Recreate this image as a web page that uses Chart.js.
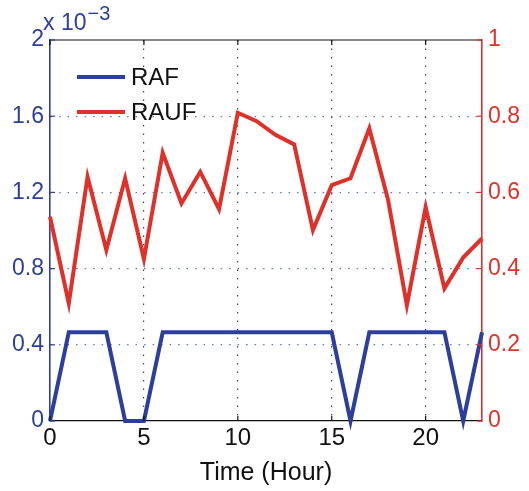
<!DOCTYPE html>
<html>
<head>
<meta charset="utf-8">
<script src="https://cdn.jsdelivr.net/npm/chart.js@4/dist/chart.umd.min.js"></script>
<style>
  html, body { margin: 0; padding: 0; background: #ffffff; }
  #wrap { width: 529px; height: 491px; position: relative; }
</style>
</head>
<body>
<div id="wrap"><canvas id="c" width="529" height="491"></canvas></div>
<script>
// Hours of the day
const hours = [0, 1, 2, 3, 4, 5, 6, 7, 8, 9, 10, 11, 12, 13, 14, 15, 16, 17, 18, 19, 20, 21, 22, 23];

// RAF (left axis, shown in units of 10^-3)
const raf = [0, 0.000466, 0.000466, 0.000466, 0, 0, 0.000466, 0.000466, 0.000466, 0.000466,
             0.000466, 0.000466, 0.000466, 0.000466, 0.000466, 0.000466, 0, 0.000466, 0.000466,
             0.000466, 0.000466, 0.000466, 0, 0.000466];

// RAUF (right axis)
const rauf = [0.536, 0.309, 0.641, 0.449, 0.637, 0.425, 0.704, 0.571, 0.654, 0.556,
              0.809, 0.787, 0.751, 0.726, 0.501, 0.619, 0.637, 0.768, 0.580, 0.304,
              0.561, 0.348, 0.429, 0.479];

const xTicks = [0, 5, 10, 15, 20];
const leftTicks = [0, 0.0004, 0.0008, 0.0012, 0.0016, 0.002];
const rightTicks = [0, 0.2, 0.4, 0.6, 0.8, 1];

const BLUE = '#2c3f9d';
const RED = '#e0302a';
const FONT = '"Liberation Sans", Arial, Helvetica, sans-serif';

// Frame, inward tick marks, exponent label and the in-plot legend
const decorations = {
  id: 'decorations',
  afterDatasetsDraw(chart) {
    const { ctx, chartArea: a, scales } = chart;
    const len = 5;
    ctx.save();
    ctx.lineWidth = 1.2;
    // top border
    ctx.strokeStyle = '#111';
    ctx.beginPath();
    ctx.moveTo(a.left, a.top);
    ctx.lineTo(a.right, a.top);
    ctx.stroke();
    // x ticks top & bottom
    xTicks.forEach(v => {
      const px = scales.x.getPixelForValue(v);
      ctx.beginPath();
      ctx.moveTo(px, a.bottom); ctx.lineTo(px, a.bottom - len);
      ctx.moveTo(px, a.top); ctx.lineTo(px, a.top + len);
      ctx.stroke();
    });
    // left ticks
    ctx.strokeStyle = BLUE;
    leftTicks.forEach(v => {
      const py = scales.y.getPixelForValue(v);
      ctx.beginPath();
      ctx.moveTo(a.left, py); ctx.lineTo(a.left + len, py);
      ctx.stroke();
    });
    // right ticks
    ctx.strokeStyle = RED;
    rightTicks.forEach(v => {
      const py = scales.y1.getPixelForValue(v);
      ctx.beginPath();
      ctx.moveTo(a.right, py); ctx.lineTo(a.right - len, py);
      ctx.stroke();
    });

    // exponent of the left axis
    ctx.fillStyle = BLUE;
    ctx.textBaseline = 'alphabetic';
    ctx.textAlign = 'left';
    ctx.font = '23px ' + FONT;
    const base = 'x 10';
    ctx.fillText(base, 43, 30);
    const w = ctx.measureText(base).width;
    ctx.font = '20px ' + FONT;
    ctx.fillText('\u22123', 43 + w + 1, 20);

    // legend
    const items = chart.data.datasets;
    const lx0 = 77, lx1 = 125, ys = [77, 112];
    items.forEach((ds, i) => {
      ctx.strokeStyle = ds.borderColor;
      ctx.lineWidth = ds.borderWidth;
      ctx.beginPath();
      ctx.moveTo(lx0, ys[i]); ctx.lineTo(lx1, ys[i]);
      ctx.stroke();
      ctx.fillStyle = '#111';
      ctx.font = '24px ' + FONT;
      ctx.textBaseline = 'middle';
      ctx.fillText(ds.label, 131, ys[i] + 1);
    });
    ctx.restore();
  }
};

new Chart(document.getElementById('c'), {
  type: 'line',
  data: {
    datasets: [
      {
        label: 'RAF',
        data: hours.map((h, i) => ({ x: h, y: raf[i] })),
        borderColor: BLUE,
        borderWidth: 4,
        pointRadius: 0,
        tension: 0,
        yAxisID: 'y'
      },
      {
        label: 'RAUF',
        data: hours.map((h, i) => ({ x: h, y: rauf[i] })),
        borderColor: RED,
        borderWidth: 4,
        pointRadius: 0,
        tension: 0,
        yAxisID: 'y1'
      }
    ]
  },
  options: {
    responsive: false,
    animation: false,
    clip: false,
    layout: { padding: { top: 40, left: 0, right: 0, bottom: 0 } },
    plugins: { legend: { display: false }, tooltip: { enabled: false } },
    scales: {
      x: {
        type: 'linear',
        min: 0, max: 23,
        afterFit(s) { s.height = 70; },
        afterBuildTicks(s) { s.ticks = xTicks.map(v => ({ value: v })); },
        ticks: {
          color: '#111',
          font: { family: FONT, size: 24 },
          padding: 3,
          maxRotation: 0
        },
        grid: {
          drawTicks: false,
          color: ctx => (ctx.tick && ctx.tick.value === 0) ? 'rgba(0,0,0,0)' : '#444',
          lineWidth: 1.2
        },
        border: { display: true, color: '#111', width: 1.2, dash: [1.5, 7] },
        title: {
          display: true,
          text: 'Time (Hour)',
          color: '#111',
          font: { family: FONT, size: 25 },
          padding: { top: 0, bottom: 3 }
        }
      },
      y: {
        type: 'linear',
        position: 'left',
        min: 0, max: 0.002,
        afterFit(s) { s.width = 50; },
        afterBuildTicks(s) { s.ticks = leftTicks.map(v => ({ value: v })); },
        ticks: {
          color: BLUE,
          font: { family: FONT, size: 23 },
          padding: 6,
          callback: v => String(+(v * 1000).toFixed(1))
        },
        grid: {
          drawTicks: false,
          color: ctx => (ctx.tick && (ctx.tick.value === 0 || ctx.tick.value === 0.002)) ? 'rgba(0,0,0,0)' : '#5f74cf',
          lineWidth: 1.2
        },
        border: { display: true, color: BLUE, width: 1.6, dash: [1.5, 7] }
      },
      y1: {
        type: 'linear',
        position: 'right',
        min: 0, max: 1,
        afterFit(s) { s.width = 47; },
        afterBuildTicks(s) { s.ticks = rightTicks.map(v => ({ value: v })); },
        ticks: {
          color: RED,
          font: { family: FONT, size: 23 },
          padding: 6,
          callback: v => String(+v.toFixed(1))
        },
        grid: { display: false, drawTicks: false },
        border: { display: true, color: RED, width: 1.6 }
      }
    }
  },
  plugins: [decorations]
});
</script>
</body>
</html>
